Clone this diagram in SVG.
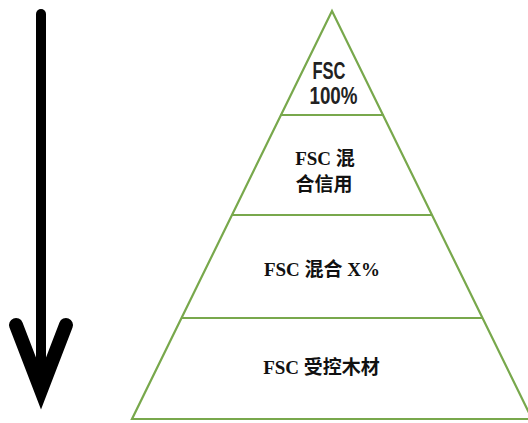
<svg xmlns="http://www.w3.org/2000/svg" width="528" height="423" viewBox="0 0 528 423">
<style>
.edge{stroke:#78a84c;stroke-width:2.2;fill:none}
.t{font-family:"Liberation Serif","Noto Sans CJK SC",serif;font-weight:bold;font-size:19px;fill:#111;text-anchor:middle}
.s{font-family:"Liberation Sans","Noto Sans",sans-serif;font-weight:bold;font-size:23px;fill:#222;text-anchor:middle}
.cjk{font-family:"Noto Sans CJK SC",sans-serif;font-weight:bold}
</style>
<rect width="528" height="423" fill="#fff"/>
<g id="arrow">
<line x1="41" y1="14" x2="41" y2="392" stroke="#000" stroke-width="10" stroke-linecap="round"/>
<polyline points="16,325 41,390 66,325" fill="none" stroke="#000" stroke-width="14" stroke-linecap="round" stroke-linejoin="miter" stroke-miterlimit="10"/>
</g>
<g id="connectors">
<polygon class="edge" points="332,11 132,419 532,419"/>
</g>
<g id="level1">
<line class="edge" x1="280" y1="115" x2="384" y2="115"/>
<text class="s" x="329" y="79" textLength="33" lengthAdjust="spacingAndGlyphs">FSC</text>
<text class="s" x="333.5" y="104" textLength="48" lengthAdjust="spacingAndGlyphs">100%</text>
</g>
<g id="level2">
<line class="edge" x1="232" y1="215" x2="432" y2="215"/>
<text class="t" x="325" y="165">FSC <tspan class="cjk">混</tspan></text>
<text class="t" x="324" y="191"><tspan class="cjk">合信用</tspan></text>
</g>
<g id="level3">
<line class="edge" x1="182" y1="318" x2="482" y2="318"/>
<text class="t" x="322" y="276">FSC <tspan class="cjk">混合</tspan> X%</text>
</g>
<g id="level4">
<text class="t" x="321.5" y="374">FSC <tspan class="cjk">受控木材</tspan></text>
</g>
</svg>
